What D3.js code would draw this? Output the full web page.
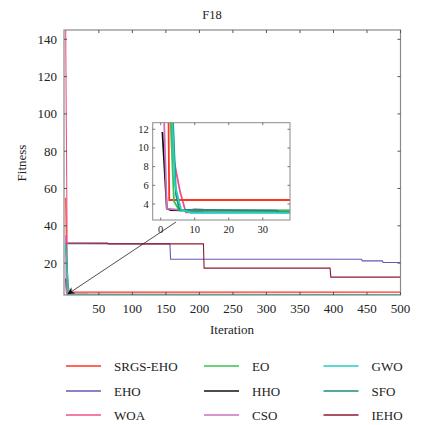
<!DOCTYPE html>
<html>
<head>
<meta charset="utf-8">
<script src="https://cdn.jsdelivr.net/npm/d3@7"></script>
<style>
  body { margin: 0; background: #fff; }
  svg text { font-family: "Times New Roman", "Liberation Serif", Times, serif; fill: #222; }
</style>
</head>
<body>
<div id="chart"></div>
<script>
// Series: [iteration, fitness] breakpoints
const srgsEho = [[0.5, 55], [2.3, 13], [2.5, 4.43], [500, 4.43]];
const eho = [[0.5, 30.4], [156, 30.3], [157, 22.1], [442, 22.1], [443, 21.2], [473, 21.2], [474, 20.3], [500, 20.3]];
const woa = [[0.5, 145], [3, 13], [4, 8.5], [5.7, 5.3], [7.4, 3.1], [500, 3.05]];
const eo = [[0.5, 28], [2.9, 13], [3.9, 4.3], [5.5, 3.3], [500, 3.02]];
const hho = [[0.5, 11.7], [1.8, 3.5], [3, 3.35], [10, 3.3], [500, 3.15]];
const cso = [[0.5, 35], [1, 13], [1.8, 3.5], [8, 3.3], [10, 3.45], [12.5, 3.4], [13, 3.2], [500, 3.1]];
const gwo = [[0.5, 30.5], [3.4, 13], [4.2, 6], [6, 3.4], [9, 3.05], [500, 2.98]];
const sfo = [[0.5, 30.5], [3.6, 13], [4.5, 5], [5.5, 3.4], [34, 3.29], [35, 3.1], [500, 3.0]];
const iehoSeries = [[0.5, 30.8], [63, 30.7], [64, 30.3], [206, 30.3], [207, 17.3], [395, 17.3], [396, 12.5], [500, 12.5]];

const names = ["SRGS-EHO", "EHO", "WOA", "EO", "HHO", "CSO", "GWO", "SFO", "IEHO"];
const colors = ["#ff3322", "#6a56b4", "#f0508c", "#3cc050", "#111111", "#cc6fbf", "#22cfc2", "#1b8c82", "#8e1a30"];
const seriesData = [srgsEho, eho, woa, eo, hho, cso, gwo, sfo, iehoSeries];

const xTicks = [50, 100, 150, 200, 250, 300, 350, 400, 450, 500];
const yTicks = [20, 40, 60, 80, 100, 120, 140];
const insetXTicks = [0, 10, 20, 30];
const insetYTicks = [4, 6, 8, 10, 12];

const width = 423, height = 425;
const m = { left: 64, right: 400.5, top: 30, bottom: 295 };

const svg = d3.select("#chart").append("svg")
  .attr("width", width)
  .attr("height", height);

const x = d3.scaleLinear().domain([-2, 500]).range([m.left, m.right]);
const y = d3.scaleLinear().domain([2.9, 145]).range([m.bottom, m.top]);

const series = names.map((n, i) => ({ name: n, color: colors[i], values: seriesData[i] }));
// draw order: dark/long lines under the light ones at the bottom
const drawOrder = [1, 8, 2, 0, 4, 5, 3, 7, 6];

const defs = svg.append("defs");
defs.append("clipPath").attr("id", "mainClip")
  .append("rect")
  .attr("x", m.left).attr("y", m.top)
  .attr("width", m.right - m.left).attr("height", m.bottom - m.top);

// Main lines
const line = d3.line().x(d => x(d[0])).y(d => y(d[1]));
svg.append("g").attr("clip-path", "url(#mainClip)")
  .selectAll("path")
  .data(drawOrder.map(i => series[i]))
  .join("path")
    .attr("fill", "none")
    .attr("stroke", d => d.color)
    .attr("stroke-width", 1.1)
    .attr("d", d => line(d.values));

// Main frame
svg.append("rect")
  .attr("x", m.left).attr("y", m.top)
  .attr("width", m.right - m.left).attr("height", m.bottom - m.top)
  .attr("fill", "none").attr("stroke", "#8a8a8a").attr("stroke-width", 1.2);

// Ticks (inward, all sides)
const tickLen = 3;
const tk = svg.append("g").attr("stroke", "#555").attr("stroke-width", 1);
xTicks.forEach(t => {
  tk.append("line").attr("x1", x(t)).attr("x2", x(t)).attr("y1", m.bottom).attr("y2", m.bottom - tickLen);
  tk.append("line").attr("x1", x(t)).attr("x2", x(t)).attr("y1", m.top).attr("y2", m.top + tickLen);
});
yTicks.forEach(t => {
  tk.append("line").attr("x1", m.left).attr("x2", m.left + tickLen).attr("y1", y(t)).attr("y2", y(t));
  tk.append("line").attr("x1", m.right).attr("x2", m.right - tickLen).attr("y1", y(t)).attr("y2", y(t));
});

svg.append("g").selectAll("text")
  .data(xTicks).join("text")
    .attr("x", d => x(d)).attr("y", m.bottom + 18)
    .attr("text-anchor", "middle")
    .style("font-size", "13px")
    .text(d => d);

svg.append("g").selectAll("text")
  .data(yTicks).join("text")
    .attr("x", m.left - 7).attr("y", d => y(d) + 4.5)
    .attr("text-anchor", "end")
    .style("font-size", "13px")
    .text(d => d);

// Titles
svg.append("text").attr("x", 212).attr("y", 19).attr("text-anchor", "middle")
  .style("font-size", "12.5px").text("F18");
svg.append("text").attr("x", 232).attr("y", 334).attr("text-anchor", "middle")
  .style("font-size", "13px").text("Iteration");
svg.append("text").attr("transform", "translate(26,163) rotate(-90)").attr("text-anchor", "middle")
  .style("font-size", "13px").text("Fitness");

// Inset
const ins = { left: 152.7, right: 290, top: 122.7, bottom: 220 };
const xi = d3.scaleLinear().domain([-2.35, 38]).range([ins.left, ins.right]);
const yi = d3.scaleLinear().domain([2.29, 12.7]).range([ins.bottom, ins.top]);

defs.append("clipPath").attr("id", "insetClip")
  .append("rect")
  .attr("x", ins.left).attr("y", ins.top)
  .attr("width", ins.right - ins.left).attr("height", ins.bottom - ins.top);

svg.append("rect")
  .attr("x", ins.left).attr("y", ins.top)
  .attr("width", ins.right - ins.left).attr("height", ins.bottom - ins.top)
  .attr("fill", "#fff");

const lineI = d3.line().x(d => xi(d[0])).y(d => yi(d[1]));
svg.append("g").attr("clip-path", "url(#insetClip)")
  .selectAll("path")
  .data(drawOrder.map(i => series[i]))
  .join("path")
    .attr("fill", "none")
    .attr("stroke", d => d.color)
    .attr("stroke-width", 1.8)
    .attr("d", d => lineI(d.values));

svg.append("rect")
  .attr("x", ins.left).attr("y", ins.top)
  .attr("width", ins.right - ins.left).attr("height", ins.bottom - ins.top)
  .attr("fill", "none").attr("stroke", "#8a8a8a").attr("stroke-width", 1);

const tki = svg.append("g").attr("stroke", "#555").attr("stroke-width", 0.8);
insetXTicks.forEach(t => {
  tki.append("line").attr("x1", xi(t)).attr("x2", xi(t)).attr("y1", ins.bottom).attr("y2", ins.bottom - 2.5);
  tki.append("line").attr("x1", xi(t)).attr("x2", xi(t)).attr("y1", ins.top).attr("y2", ins.top + 2.5);
});
insetYTicks.forEach(t => {
  tki.append("line").attr("x1", ins.left).attr("x2", ins.left + 2.5).attr("y1", yi(t)).attr("y2", yi(t));
  tki.append("line").attr("x1", ins.right).attr("x2", ins.right - 2.5).attr("y1", yi(t)).attr("y2", yi(t));
});

svg.append("g").selectAll("text")
  .data(insetXTicks).join("text")
    .attr("x", d => xi(d)).attr("y", ins.bottom + 13)
    .attr("text-anchor", "middle")
    .style("font-size", "10.5px")
    .text(d => d);

svg.append("g").selectAll("text")
  .data(insetYTicks).join("text")
    .attr("x", ins.left - 4).attr("y", d => yi(d) + 3.5)
    .attr("text-anchor", "end")
    .style("font-size", "10.5px")
    .text(d => d);

// Arrow from inset to the converged region
defs.append("marker")
  .attr("id", "arrow")
  .attr("viewBox", "0 0 10 10")
  .attr("refX", 9).attr("refY", 5)
  .attr("markerWidth", 9).attr("markerHeight", 9)
  .attr("orient", "auto")
  .append("path")
  .attr("d", "M0,0 L10,5 L0,10 L3,5 Z")
  .attr("fill", "#111");

svg.append("line")
  .attr("x1", xi(4.5)).attr("y1", ins.bottom + 2)
  .attr("x2", x(4)).attr("y2", y(3.5))
  .attr("stroke", "#222").attr("stroke-width", 0.8)
  .attr("marker-end", "url(#arrow)");

// Legend
const legCols = [66, 204, 323.5];
const legRows = [366, 391, 415];
const legLen = 35;
const leg = svg.append("g").selectAll("g")
  .data(series).join("g")
    .attr("transform", (d, i) => `translate(${legCols[Math.floor(i / 3)]},${legRows[i % 3]})`);
leg.append("line")
  .attr("x1", 0).attr("x2", legLen)
  .attr("stroke", d => d.color).attr("stroke-width", 1.6);
leg.append("text")
  .attr("x", legLen + 13).attr("y", 4.5)
  .style("font-size", "13px")
  .text(d => d.name);
</script>
</body>
</html>
